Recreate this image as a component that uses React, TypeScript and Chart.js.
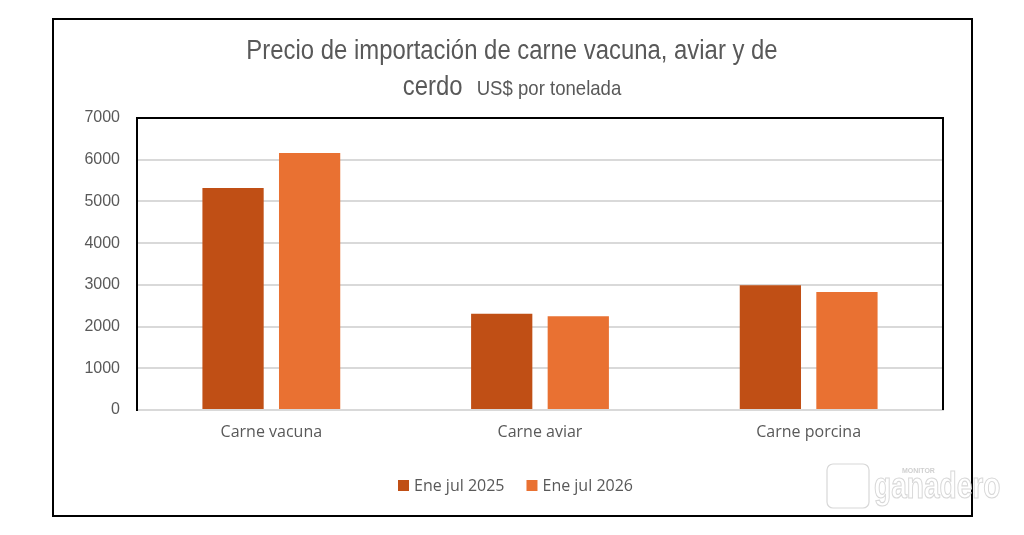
import React, { useEffect, useRef } from "react";
import { Chart, registerables } from "chart.js";

Chart.register(...registerables);

const categories = ["Carne vacuna", "Carne aviar", "Carne porcina"];
const series2025 = [5320, 2310, 2990];
const series2026 = [6160, 2250, 2830];
const seriesLabels = ["Ene jul 2025", "Ene jul 2026"];
const yTicks = [0, 1000, 2000, 3000, 4000, 5000, 6000, 7000];
const titleLine1 = "Precio de importación de carne vacuna, aviar y de";
const titleLine2a = "cerdo";
const titleLine2b = "US$ por tonelada";

const DARK = "#C04F15";
const LIGHT = "#E97132";
const TEXT = "#595959";
const NARROW = 0.885;

const decorPlugin = {
  id: "decor",
  afterDraw(chart: any) {
    const ctx = chart.ctx as CanvasRenderingContext2D;
    const a = chart.chartArea;
    ctx.save();
    // outer frame
    ctx.strokeStyle = "#000";
    ctx.lineWidth = 2;
    ctx.strokeRect(53, 19, 919, 497);
    // plot frame top/left/right
    ctx.beginPath();
    ctx.moveTo(a.left, a.bottom);
    ctx.lineTo(a.left, a.top);
    ctx.lineTo(a.right, a.top);
    ctx.lineTo(a.right, a.bottom);
    ctx.stroke();
    // title (condensed via horizontal scale)
    ctx.save();
    ctx.translate(512, 0);
    ctx.scale(NARROW, 1);
    ctx.fillStyle = TEXT;
    ctx.textBaseline = "middle";
    ctx.textAlign = "center";
    const big = "27px 'Liberation Sans', Arial, sans-serif";
    const small = "21px 'Liberation Sans', Arial, sans-serif";
    ctx.font = big;
    ctx.fillText(titleLine1, 0, 52);
    const w1 = ctx.measureText(titleLine2a).width;
    const gap = 16;
    ctx.font = small;
    const w2 = ctx.measureText(titleLine2b).width;
    const start = -(w1 + gap + w2) / 2;
    ctx.textAlign = "left";
    ctx.font = big;
    ctx.fillText(titleLine2a, start, 88);
    ctx.font = small;
    ctx.fillText(titleLine2b, start + w1 + gap, 89);
    ctx.restore();
    // legend
    ctx.textBaseline = "middle";
    ctx.textAlign = "left";
    ctx.font = "16px 'Open Sans', sans-serif";
    let x = 398;
    chart.data.datasets.forEach((ds: any) => {
      ctx.fillStyle = ds.backgroundColor;
      ctx.fillRect(x, 480, 11, 11);
      ctx.fillStyle = TEXT;
      ctx.fillText(ds.label, x + 16, 486);
      x += 16 + ctx.measureText(ds.label).width + 22;
    });
    // watermark
    ctx.strokeStyle = "#d8d8d8";
    ctx.lineWidth = 1.2;
    ctx.beginPath();
    (ctx as any).roundRect(827, 464, 42, 44, 6);
    ctx.stroke();
    ctx.save();
    ctx.translate(874, 0);
    ctx.scale(0.78, 1);
    ctx.font = "bold 36px 'Liberation Sans', sans-serif";
    ctx.textAlign = "left";
    ctx.textBaseline = "middle";
    ctx.strokeText("ganadero", 0, 488);
    ctx.restore();
    ctx.font = "bold 7px 'Liberation Sans', sans-serif";
    ctx.fillStyle = "#d0d0d0";
    ctx.textAlign = "left";
    ctx.fillText("MONITOR", 902, 471);
    ctx.restore();
  },
};

export default function App() {
  const ref = useRef<HTMLCanvasElement>(null);
  useEffect(() => {
    if (!ref.current) return;
    const chart = new Chart(ref.current, {
      type: "bar",
      data: {
        labels: categories,
        datasets: [
          { label: seriesLabels[0], data: series2025, backgroundColor: DARK },
          { label: seriesLabels[1], data: series2026, backgroundColor: LIGHT },
        ],
      },
      plugins: [decorPlugin],
      options: {
        responsive: false,
        animation: false,
        devicePixelRatio: 1,
        layout: { padding: { left: 52, top: 118, right: 81, bottom: 85 } },
        plugins: { legend: { display: false }, title: { display: false }, tooltip: { enabled: false } },
        datasets: { bar: { categoryPercentage: 0.57, barPercentage: 0.8 } },
        scales: {
          x: {
            grid: { display: false, drawTicks: false },
            border: { color: "#d9d9d9", width: 2 },
            ticks: { color: TEXT, font: { family: "'Open Sans', sans-serif", size: 16 }, padding: 13 },
            afterFit(s: any) { s.height = 40; },
          },
          y: {
            min: 0,
            max: 7000,
            afterBuildTicks(s: any) { s.ticks = yTicks.map((v) => ({ value: v })); },
            grid: { color: "#d9d9d9", lineWidth: 2, drawTicks: false },
            border: { color: "#000", width: 2 },
            ticks: {
              color: TEXT,
              font: { family: "'Liberation Sans', Arial, sans-serif", size: 16 },
              padding: 17,
              callback: (v: any) => String(v),
            },
            afterFit(s: any) { s.width = 85; },
          },
        },
      },
    });
    return () => chart.destroy();
  }, []);
  return (
    <div style={{ position: "fixed", left: 0, top: 0, width: 1024, height: 535, background: "#fff" }}>
      <canvas ref={ref} width={1024} height={535} style={{ width: 1024, height: 535, display: "block" }} />
    </div>
  );
}
